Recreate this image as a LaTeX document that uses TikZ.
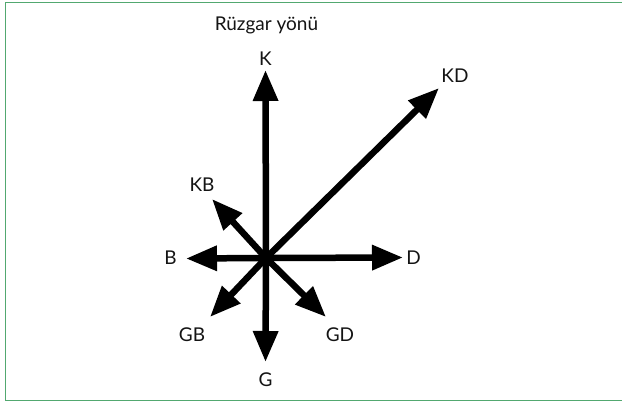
\documentclass[tikz,border=0pt]{standalone}
\usepackage{fontspec}
\setmainfont{Lato}
\usetikzlibrary{arrows.meta}
\definecolor{frame}{RGB}{82,168,112}
\definecolor{ink}{RGB}{20,20,20}
\begin{document}
\begin{tikzpicture}[x=1pt,y=-1pt,
  lbl/.style={font=\fontsize{19}{22}\selectfont, text=ink, inner sep=0pt},
  windarrow/.style={line width=6.5pt, draw=black, -{Triangle[length=31pt,width=24pt]}, shorten <=-1pt}]
\useasboundingbox (0,0) rectangle (622,402);
\draw[frame, line width=1.6pt] (5.5,2.5) rectangle (630,400.5);
\node[lbl] (title) at (266.5,25) {Rüzgar yönü};
\coordinate (c) at (266,258);
\coordinate (tK) at (265.5,70);
\coordinate (tKD) at (439,88);
\coordinate (tD) at (403,257.5);
\coordinate (tB) at (186,258.5);
\coordinate (tKB) at (212,199);
\coordinate (tGB) at (210,317);
\coordinate (tG) at (265.5,362);
\coordinate (tGD) at (326,317);
\node[lbl] (K) at (265.5,59) {K};
\node[lbl] (KD) at (455,76) {KD};
\node[lbl] (D) at (413.5,257.5) {D};
\node[lbl] (B) at (170.5,258) {B};
\node[lbl] (KB) at (202,185) {KB};
\node[lbl] (GB) at (192,335) {GB};
\node[lbl] (GD) at (340,335) {GD};
\node[lbl] (G) at (265.5,379.5) {G};
\foreach \t in {tK,tKD,tD,tB,tKB,tGB,tG,tGD}
  \draw[windarrow] (c) -- (\t);
\end{tikzpicture}
\end{document}
